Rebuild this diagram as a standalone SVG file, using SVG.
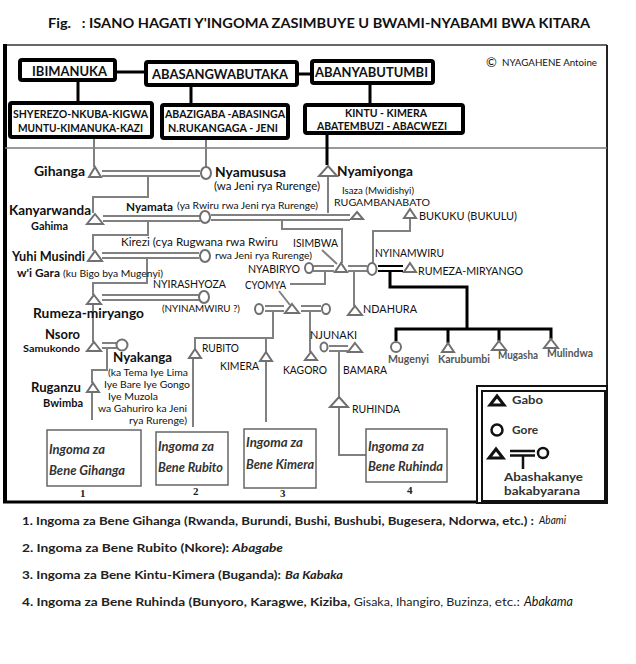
<svg xmlns="http://www.w3.org/2000/svg" width="636" height="664" viewBox="0 0 636 664">
<style>
.t{font-family:Lato,"Open Sans","Liberation Sans",sans-serif;fill:#111}
.b{font-weight:bold}
.s{font-size:11px}
.m{font-size:13px}
.box{fill:#fff;stroke:#000;stroke-width:4}
.ln{fill:none;stroke:#808080;stroke-width:2}
.bk{fill:none;stroke:#000;stroke-width:3}
.tri{fill:#fff;stroke:#707070;stroke-width:2}
.cir{fill:#fff;stroke:#707070;stroke-width:2}
.kb{fill:#fff;stroke:#666;stroke-width:1.5}
.it{font-family:Lato,"Open Sans","Liberation Sans",sans-serif;font-style:italic;font-weight:bold;font-size:13px;fill:#333}
.num{font-family:"Liberation Serif",serif;font-weight:bold;font-size:11px;fill:#222}
.kid{font-family:Lato,"Open Sans","Liberation Sans",sans-serif;font-weight:bold;font-size:10.5px;fill:#555}
.lg{font-family:Lato,"Open Sans","Liberation Sans",sans-serif;font-weight:bold;font-size:11.5px;fill:#333}
.ft{font-family:Lato,"Open Sans","Liberation Sans",sans-serif;font-weight:bold;font-size:12px;fill:#222}
</style>
<rect width="636" height="664" fill="#fff"/>

<text class="t b" x="48" y="28" font-size="14" xml:space="preserve" textLength="542" lengthAdjust="spacingAndGlyphs">Fig.   : ISANO HAGATI Y'INGOMA ZASIMBUYE U BWAMI-NYABAMI BWA KITARA</text>

<g id="frame">
<line x1="5" y1="45" x2="607" y2="45" stroke="#333" stroke-width="1.5"/>
<line x1="5" y1="44" x2="5" y2="503" stroke="#000" stroke-width="4"/>
<line x1="3" y1="502" x2="607" y2="502" stroke="#000" stroke-width="3"/>
<line x1="607" y1="45" x2="607" y2="388" stroke="#222" stroke-width="2"/>
<line x1="5" y1="148" x2="607" y2="148" stroke="#777" stroke-width="1.5"/>
<text class="t" x="486" y="67" font-size="13">©</text>
<text class="t" x="502" y="66" font-size="10" textLength="95" lengthAdjust="spacingAndGlyphs">NYAGAHENE Antoine</text>
</g>

<g id="connectors">
<path class="bk" d="M115,72 H146 M297,74 H312 M78,80 V103 M191,85 V105 M370,83 V105 M327,133 V165"/>
<path class="ln" d="M94,137 V167 M206,138 V167"/>
<path class="ln" d="M148,176 V197 H93 V213 M148,221 V235 H93 V251 M147,258 V283 H93 V295 M93,304 V342 M107,348 V370 H92 V383 M92,392 V420"/>
<path class="ln" d="M282,220 V229 H342 V263 M328,176 V213 M373,263 V231 H410 V218"/>
<path class="ln" d="M325,271 V284 H290 M279,291 L290,305 M322,250 L337,264 M354,271 V306"/>
<path class="ln" d="M273,311 V338 H195 V349 M266,338 V352 M193,358 V427 M266,361 V422 M310,311 V352 M339,351 V397 M339,407 V455 H366"/>
<path class="bk" d="M390,271 V287 H467 V329 M396,341 V329 H551 V339 M448,329 V343 M499,329 V341"/>
<g class="ln" stroke-width="1.6">
<path d="M102,171 H200 M102,176 H200"/>
<path d="M103,216 H200 M103,221 H200 M211,215 H350 M211,220 H350"/>
<path d="M102,253 H199 M102,258 H199"/>
<path d="M102,295 H199 M102,300 H199"/>
<path d="M102,343 H117 M102,348 H117"/>
<path d="M265,306 H284 M265,311 H284 M301,306 H321 M301,311 H321"/>
<path d="M313,266 H334 M313,271 H334 M348,266 H367 M348,271 H367"/>
<path d="M329,346 H348 M329,351 H348"/>
</g>
<path d="M378,266 H403 M378,271 H403" stroke="#000" stroke-width="2" fill="none"/>
</g>

<g id="top-boxes">
<g id="ibimanuka"><rect class="box" x="20" y="60" width="95" height="20" rx="2"/><text class="t b" x="32" y="75.5" font-size="13" textLength="75" lengthAdjust="spacingAndGlyphs">IBIMANUKA</text></g>
<g id="abasangwabutaka"><rect class="box" x="146" y="62" width="151" height="23" rx="2"/><text class="t b" x="152" y="78.5" font-size="14" textLength="136" lengthAdjust="spacingAndGlyphs">ABASANGWABUTAKA</text></g>
<g id="abanyabutumbi"><rect class="box" x="312" y="61" width="121" height="22" rx="2"/><text class="t b" x="315" y="77" font-size="13" textLength="113" lengthAdjust="spacingAndGlyphs">ABANYABUTUMBI</text></g>
<g id="shyerezo"><rect class="box" x="10" y="103" width="142" height="34" rx="2"/><text class="t b" x="13" y="118" font-size="11.5" textLength="135" lengthAdjust="spacingAndGlyphs">SHYEREZO-NKUBA-KIGWA</text><text class="t b" x="18" y="132" font-size="11.5" textLength="125" lengthAdjust="spacingAndGlyphs">MUNTU-KIMANUKA-KAZI</text></g>
<g id="abazigaba"><rect class="box" x="162" y="105" width="126" height="33" rx="2"/><text class="t b" x="165" y="118" font-size="11" textLength="120" lengthAdjust="spacingAndGlyphs">ABAZIGABA -ABASINGA</text><text class="t b" x="168" y="132" font-size="11" textLength="110" lengthAdjust="spacingAndGlyphs">N.RUKANGAGA - JENI</text></g>
<g id="kintu"><rect class="box" x="305" y="105" width="158" height="28" rx="2"/><text class="t b" x="345" y="116.5" font-size="11" textLength="82" lengthAdjust="spacingAndGlyphs">KINTU - KIMERA</text><text class="t b" x="317" y="130" font-size="11" textLength="130" lengthAdjust="spacingAndGlyphs">ABATEMBUZI - ABACWEZI</text></g>
</g>

<g id="gihanga"><polygon class="tri" points="95,167 101,177 89,177"/><text class="t b m" x="34" y="176" textLength="51" lengthAdjust="spacingAndGlyphs">Gihanga</text></g>
<g id="nyamususa"><ellipse class="cir" cx="206" cy="173" rx="5" ry="6"/><text class="t b m" x="215" y="177" textLength="71" lengthAdjust="spacingAndGlyphs">Nyamususa</text><text class="t s" x="214" y="190" textLength="106" lengthAdjust="spacingAndGlyphs">(wa Jeni rya Rurenge)</text></g>
<g id="nyamiyonga"><polygon class="tri" points="328,166 337,176 319,176"/><text class="t b m" x="337" y="176" textLength="76" lengthAdjust="spacingAndGlyphs">Nyamiyonga</text></g>
<g id="isaza"><polygon class="tri" points="357,212 363,219 351,219"/><text class="t" x="342" y="193.5" font-size="10" textLength="72" lengthAdjust="spacingAndGlyphs">Isaza (Mwidishyi)</text><text class="t" x="334" y="205.5" font-size="10" textLength="96" lengthAdjust="spacingAndGlyphs">RUGAMBANABATO</text></g>
<g id="bukuku"><polygon class="tri" points="410,209 416,218 404,218"/><text class="t" x="419" y="220" font-size="12" textLength="98" lengthAdjust="spacingAndGlyphs">BUKUKU (BUKULU)</text></g>
<g id="kanyarwanda"><polygon class="tri" points="95,214 103,224 87,224"/><text class="t b m" x="9" y="215" textLength="82" lengthAdjust="spacingAndGlyphs">Kanyarwanda</text><text class="t b" x="31" y="229.5" font-size="10.5" textLength="37" lengthAdjust="spacingAndGlyphs">Gahima</text></g>
<g id="nyamata"><ellipse class="cir" cx="205" cy="217" rx="5" ry="6"/><text class="t b" x="126" y="211" font-size="12" textLength="47" lengthAdjust="spacingAndGlyphs">Nyamata</text><text class="t" x="177" y="209" font-size="9.5" textLength="141" lengthAdjust="spacingAndGlyphs">(ya Rwiru rwa Jeni rya Rurenge)</text></g>
<g id="yuhi"><polygon class="tri" points="95,251 102,261 88,261"/><text class="t b m" x="12" y="261" textLength="73" lengthAdjust="spacingAndGlyphs">Yuhi Musindi</text><text class="t b s" x="17" y="277" textLength="43" lengthAdjust="spacingAndGlyphs">w'i Gara</text><text class="t" x="63" y="277" font-size="9.5" textLength="100" lengthAdjust="spacingAndGlyphs">(ku Bigo bya Mugenyi)</text></g>
<g id="kirezi"><ellipse class="cir" cx="205" cy="256" rx="5" ry="6"/><text class="t" x="121" y="246" font-size="11.5" textLength="157" lengthAdjust="spacingAndGlyphs">Kirezi (cya Rugwana rwa Rwiru</text><text class="t" x="215" y="258.5" font-size="10" textLength="97" lengthAdjust="spacingAndGlyphs">rwa Jeni rya Rurenge)</text></g>
<g id="isimbwa"><polygon class="tri" points="341,263 347,272 335,272"/><text class="t" x="293" y="247" font-size="11.5" textLength="45" lengthAdjust="spacingAndGlyphs">ISIMBWA</text></g>
<g id="nyabiryo"><ellipse class="cir" cx="309" cy="268" rx="4" ry="5"/><text class="t" x="248" y="272.5" font-size="11.5" textLength="52" lengthAdjust="spacingAndGlyphs">NYABIRYO</text></g>
<g id="nyinamwiru"><ellipse class="cir" cx="372" cy="269" rx="4.5" ry="6"/><text class="t" x="375" y="257" font-size="11.5" textLength="69" lengthAdjust="spacingAndGlyphs">NYINAMWIRU</text></g>
<g id="rumeza-miryango-r"><polygon class="tri" points="410,263 416,272 404,272"/><text class="t" x="418" y="275" font-size="12" textLength="105" lengthAdjust="spacingAndGlyphs">RUMEZA-MIRYANGO</text></g>
<g id="rumeza"><polygon class="tri" points="94,295 101,304 87,304"/><text class="t b" x="33" y="318" font-size="14" textLength="111" lengthAdjust="spacingAndGlyphs">Rumeza-miryango</text></g>
<g id="nyirashyoza"><ellipse class="cir" cx="204" cy="297" rx="5" ry="6"/><text class="t" x="153" y="288" font-size="11" textLength="73" lengthAdjust="spacingAndGlyphs">NYIRASHYOZA</text><text class="t" x="162" y="312" font-size="10" textLength="78" lengthAdjust="spacingAndGlyphs">(NYINAMWIRU ?)</text></g>
<g id="cyomya"><ellipse class="cir" cx="259" cy="309" rx="4" ry="5"/><polygon class="tri" points="292,304 299,313 285,313"/><ellipse class="cir" cx="326" cy="309" rx="4" ry="5"/><text class="t" x="245" y="289" font-size="11" textLength="41" lengthAdjust="spacingAndGlyphs">CYOMYA</text></g>
<g id="ndahura"><polygon class="tri" points="355,306 362,315 348,315"/><text class="t" x="363" y="313" font-size="12" textLength="54" lengthAdjust="spacingAndGlyphs">NDAHURA</text></g>
<g id="nsoro"><polygon class="tri" points="94,342 101,351 87,351"/><text class="t b" x="45" y="339" font-size="13" textLength="35" lengthAdjust="spacingAndGlyphs">Nsoro</text><text class="t b" x="23" y="352" font-size="10" textLength="57" lengthAdjust="spacingAndGlyphs">Samukondo</text></g>
<g id="nyakanga"><ellipse class="cir" cx="122" cy="345" rx="5.5" ry="5.5"/><text class="t b" x="113" y="362" font-size="14" textLength="59" lengthAdjust="spacingAndGlyphs">Nyakanga</text>
<text class="t" x="108" y="376" font-size="10" textLength="80" lengthAdjust="spacingAndGlyphs">(ka Tema Iye Lima</text>
<text class="t" x="104" y="388" font-size="10" textLength="86" lengthAdjust="spacingAndGlyphs">Iye Bare Iye Gongo</text>
<text class="t" x="108" y="400" font-size="10" textLength="50" lengthAdjust="spacingAndGlyphs">Iye Muzola</text>
<text class="t" x="98" y="412" font-size="10" textLength="89" lengthAdjust="spacingAndGlyphs">wa Gahuriro ka Jeni</text>
<text class="t" x="129" y="424" font-size="10" textLength="58" lengthAdjust="spacingAndGlyphs">rya Rurenge)</text></g>
<g id="ruganzu"><polygon class="tri" points="93,383 99,392 87,392"/><text class="t b" x="31" y="392" font-size="14" textLength="50" lengthAdjust="spacingAndGlyphs">Ruganzu</text><text class="t b" x="43" y="407" font-size="11.5" textLength="40" lengthAdjust="spacingAndGlyphs">Bwimba</text></g>
<g id="rubito"><polygon class="tri" points="195,349 201,358 189,358"/><text class="t" x="202" y="352" font-size="12" textLength="37" lengthAdjust="spacingAndGlyphs">RUBITO</text></g>
<g id="kimera"><polygon class="tri" points="266,352 272,361 260,361"/><text class="t" x="220" y="370" font-size="12" textLength="39" lengthAdjust="spacingAndGlyphs">KIMERA</text></g>
<g id="kagoro"><polygon class="tri" points="311,352 317,360 305,360"/><text class="t" x="283" y="374" font-size="12" textLength="44" lengthAdjust="spacingAndGlyphs">KAGORO</text></g>
<g id="njunaki"><ellipse class="cir" cx="324" cy="347" rx="3.5" ry="4.5"/><polygon class="tri" points="355,343 362,352 348,352"/><text class="t" x="310" y="339" font-size="12" textLength="47" lengthAdjust="spacingAndGlyphs">NJUNAKI</text><text class="t" x="343" y="374" font-size="12" textLength="44" lengthAdjust="spacingAndGlyphs">BAMARA</text></g>
<g id="ruhinda"><polygon class="tri" points="339,397 348,407 330,407"/><text class="t" x="352" y="413" font-size="12" textLength="48" lengthAdjust="spacingAndGlyphs">RUHINDA</text></g>
<g id="mugenyi"><circle class="cir" cx="396" cy="347" r="5"/><text class="kid" x="388" y="363" textLength="41" lengthAdjust="spacingAndGlyphs">Mugenyi</text></g>
<g id="karubumbi"><polygon class="tri" points="448,343 454,352 442,352"/><text class="kid" x="438" y="363" textLength="52" lengthAdjust="spacingAndGlyphs">Karubumbi</text></g>
<g id="mugasha"><polygon class="tri" points="499,341 506,350 492,350"/><text class="kid" x="498" y="359" textLength="40" lengthAdjust="spacingAndGlyphs">Mugasha</text></g>
<g id="mulindwa"><polygon class="tri" points="551,339 558,348 544,348"/><text class="kid" x="547" y="357" textLength="46" lengthAdjust="spacingAndGlyphs">Mulindwa</text></g>

<g id="box1"><rect class="kb" x="47" y="430" width="94" height="56"/><text class="it" x="49" y="454" textLength="56" lengthAdjust="spacingAndGlyphs">Ingoma za</text><text class="it" x="49" y="475" textLength="76" lengthAdjust="spacingAndGlyphs">Bene Gihanga</text><text class="num" x="80" y="497">1</text></g>
<g id="box2"><rect class="kb" x="156" y="432" width="72" height="53"/><text class="it" x="158" y="451" textLength="56" lengthAdjust="spacingAndGlyphs">Ingoma za</text><text class="it" x="158" y="472" textLength="65" lengthAdjust="spacingAndGlyphs">Bene Rubito</text><text class="num" x="193" y="495">2</text></g>
<g id="box3"><rect class="kb" x="244" y="429" width="72" height="59"/><text class="it" x="246" y="447" textLength="57" lengthAdjust="spacingAndGlyphs">Ingoma za</text><text class="it" x="246" y="469" textLength="68" lengthAdjust="spacingAndGlyphs">Bene Kimera</text><text class="num" x="280" y="497">3</text></g>
<g id="box4"><rect class="kb" x="366" y="429" width="81" height="53"/><text class="it" x="368" y="451" textLength="56" lengthAdjust="spacingAndGlyphs">Ingoma za</text><text class="it" x="368" y="471" textLength="75" lengthAdjust="spacingAndGlyphs">Bene Ruhinda</text><text class="num" x="407" y="494">4</text></g>

<g id="legend">
<rect x="477" y="386" width="130" height="117" fill="#fff" stroke="#111" stroke-width="2"/>
<rect x="482" y="391" width="123" height="110" fill="none" stroke="#111" stroke-width="2"/>
<polygon points="497,396 504,405 490,405" fill="none" stroke="#111" stroke-width="3"/>
<text class="lg" x="512" y="404" textLength="31" lengthAdjust="spacingAndGlyphs">Gabo</text>
<circle cx="497" cy="430" r="5.5" fill="none" stroke="#111" stroke-width="2.5"/>
<text class="lg" x="512" y="434" textLength="26" lengthAdjust="spacingAndGlyphs">Gore</text>
<polygon points="496,449 503,458 489,458" fill="none" stroke="#111" stroke-width="3"/>
<path d="M510,451 H535 M510,455.5 H535 M523,455 V469" stroke="#111" stroke-width="2.5" fill="none"/>
<circle cx="543" cy="453" r="5" fill="none" stroke="#111" stroke-width="2.5"/>
<text class="lg" x="504" y="480.5" textLength="79" lengthAdjust="spacingAndGlyphs">Abashakanye</text>
<text class="lg" x="504" y="495" textLength="76" lengthAdjust="spacingAndGlyphs">bakabyarana</text>
</g>

<g id="footnotes">
<text class="ft" x="22" y="525" textLength="512" lengthAdjust="spacingAndGlyphs">1. Ingoma za Bene Gihanga (Rwanda, Burundi, Bushi, Bushubi, Bugesera, Ndorwa, etc.) :</text>
<text class="t" x="539" y="524" font-size="11" font-style="italic" textLength="27" lengthAdjust="spacingAndGlyphs">Abami</text>
<text class="ft" x="22" y="552" textLength="207" lengthAdjust="spacingAndGlyphs">2. Ingoma za Bene Rubito (Nkore):</text>
<text class="ft" x="232" y="552" font-style="italic" textLength="51" lengthAdjust="spacingAndGlyphs">Abagabe</text>
<text class="ft" x="22" y="579" textLength="259" lengthAdjust="spacingAndGlyphs">3. Ingoma za Bene Kintu-Kimera (Buganda):</text>
<text class="ft" x="285" y="579" font-style="italic" textLength="58" lengthAdjust="spacingAndGlyphs">Ba Kabaka</text>
<text class="ft" x="22" y="606" textLength="498" lengthAdjust="spacingAndGlyphs">4. Ingoma za Bene Ruhinda (Bunyoro, Karagwe, Kiziba, <tspan font-weight="normal" font-size="11">Gisaka, Ihangiro, Buzinza,</tspan> <tspan font-weight="normal">etc.:</tspan></text>
<text class="t" x="524" y="606" font-size="13" font-style="italic" textLength="49" lengthAdjust="spacingAndGlyphs">Abakama</text>
</g>
</svg>
